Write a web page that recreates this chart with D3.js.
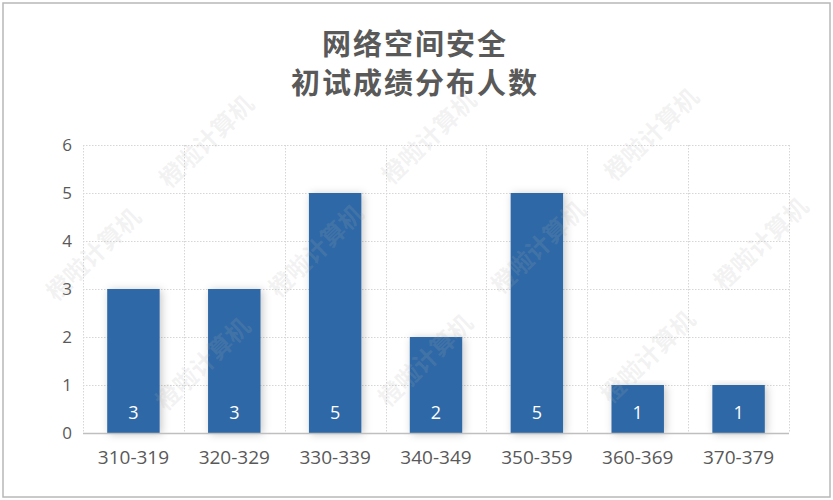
<!DOCTYPE html>
<html>
<head>
<meta charset="utf-8">
<script src="https://cdn.jsdelivr.net/npm/d3@7"></script>
<style>
  html, body { margin: 0; padding: 0; background: #fff; }
  svg { display: block; }
</style>
</head>
<body>
<svg id="chart" width="833" height="500"></svg>
<script>
// ---- data ----
const titleLines = ["网络空间安全", "初试成绩分布人数"];
const categories = ["310-319", "320-329", "330-339", "340-349", "350-359", "360-369", "370-379"];
const counts = [3, 3, 5, 2, 5, 1, 1];
const yTicks = [0, 1, 2, 3, 4, 5, 6];
const watermarkText = "橙啦计算机";

// ---- layout ----
const W = 833, H = 500;
const plot = { left: 83, right: 789, top: 145, bottom: 433 };
const svg = d3.select("#chart");

const defs = svg.append("defs");
const f = defs.append("filter").attr("id", "shadow")
  .attr("x", "-30%").attr("y", "-10%").attr("width", "160%").attr("height", "130%");
f.append("feDropShadow").attr("dx", 2).attr("dy", 1).attr("stdDeviation", 4)
  .attr("flood-color", "#000").attr("flood-opacity", 0.22);

// background + border
svg.append("rect").attr("x", 3).attr("y", 3).attr("width", W - 6).attr("height", H - 6)
  .attr("fill", "#fff").attr("stroke", "#b8b8b8").attr("stroke-width", 1.5);

const x = d3.scaleBand().domain(categories).range([plot.left, plot.right]).paddingInner(0).paddingOuter(0);
const y = d3.scaleLinear().domain([0, 6]).range([plot.bottom, plot.top]);

// gridlines
const grid = svg.append("g").attr("stroke", "#d6d6d6").attr("stroke-width", 1).attr("stroke-dasharray", "1.5,1.5");
grid.selectAll("line.h").data(yTicks.filter(d => d > 0)).join("line")
  .attr("x1", plot.left).attr("x2", plot.right)
  .attr("y1", d => Math.round(y(d)) + 0.5).attr("y2", d => Math.round(y(d)) + 0.5);
const vEdges = categories.map(c => x(c)).concat([x(categories[categories.length - 1]) + x.bandwidth()]);
grid.selectAll("line.v").data(vEdges).join("line")
  .attr("x1", d => Math.round(d) + 0.5).attr("x2", d => Math.round(d) + 0.5)
  .attr("y1", plot.top).attr("y2", plot.bottom);

// bars
const barW = x.bandwidth() * 0.52;
svg.append("g").selectAll("rect").data(counts).join("rect")
  .attr("x", (d, i) => x(categories[i]) + (x.bandwidth() - barW) / 2)
  .attr("y", d => y(d))
  .attr("width", barW)
  .attr("height", d => y(0) - y(d))
  .attr("fill", "#2E67A6")
  .attr("filter", "url(#shadow)");

// axis baseline
svg.append("line").attr("x1", plot.left).attr("x2", plot.right)
  .attr("y1", plot.bottom + 0.5).attr("y2", plot.bottom + 0.5)
  .attr("stroke", "#bfbfbf").attr("stroke-width", 1.5);

// y axis labels
const yAxis = d3.axisLeft(y).tickValues(yTicks).tickSize(0).tickPadding(0).tickFormat(d3.format("d"));
const gy = svg.append("g").attr("transform", `translate(${plot.left - 11},0)`).call(yAxis);
gy.select(".domain").remove();
gy.selectAll("text").attr("font-family", "'Open Sans', 'Noto Sans', sans-serif")
  .attr("font-size", 17).attr("fill", "#595959").attr("dy", "0.35em");

// x axis labels
const xAxis = d3.axisBottom(x).tickSize(0).tickPadding(0);
const gx = svg.append("g").attr("transform", `translate(0,${plot.bottom})`).call(xAxis);
gx.select(".domain").remove();
gx.selectAll("text").attr("font-family", "'Open Sans', 'Noto Sans', sans-serif")
  .attr("font-size", 19).attr("fill", "#595959").attr("y", 24).attr("dy", "0.35em");

// value labels
svg.append("g").selectAll("text").data(counts).join("text")
  .attr("x", (d, i) => x(categories[i]) + x.bandwidth() / 2)
  .attr("y", y(0) - 20)
  .attr("dy", "0.35em")
  .attr("text-anchor", "middle")
  .attr("font-family", "'Open Sans', 'Noto Sans', sans-serif")
  .attr("font-size", 18).attr("fill", "#ffffff")
  .text(d => d);

// title
svg.append("g").selectAll("text").data(titleLines).join("text")
  .attr("x", 415).attr("y", (d, i) => 42 + i * 39)
  .attr("dominant-baseline", "central")
  .attr("text-anchor", "middle")
  .attr("font-family", "'Noto Sans CJK SC', sans-serif")
  .attr("font-size", 29).attr("font-weight", 700).attr("letter-spacing", 2)
  .attr("fill", "#595959")
  .text(d => d);

// watermark (diagonal tiled text, only instances fully inside the frame)
const wm = [];
for (let k = -1; k <= 5; k++) {
  for (let m = -4; m <= 4; m++) {
    const c = 345 + 219 * k;
    const dd = 65 + 226 * m;
    const cx = (c + dd) / 2, cy = (c - dd) / 2;
    if (cx > 62 && cx < W - 62 && cy > 60 && cy < H - 60) wm.push([cx, cy]);
  }
}
svg.append("g").attr("pointer-events", "none").selectAll("text").data(wm).join("text")
  .attr("transform", d => `translate(${d[0]},${d[1]}) rotate(-44)`)
  .attr("text-anchor", "middle").attr("dominant-baseline", "central")
  .attr("font-family", "'Noto Sans CJK SC', sans-serif")
  .attr("font-size", 24).attr("font-weight", 700)
  .attr("fill", "#b0b0b0").attr("fill-opacity", 0.16)
  .text(watermarkText);
</script>
</body>
</html>
